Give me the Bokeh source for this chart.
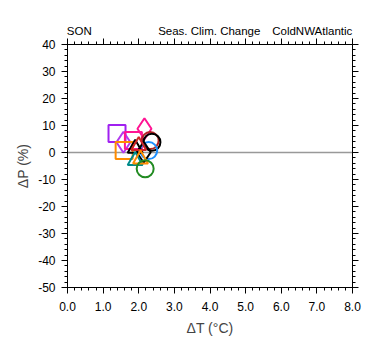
from bokeh.plotting import figure
from bokeh.models import Range1d, FixedTicker, Span, LinearAxis, NumeralTickFormatter
from bokeh.embed import file_html
from bokeh.resources import INLINE

# data
dT = [1.39, 2.16, 1.57, 1.85, 2.32, 2.37, 1.59, 2.28, 2.14, 1.90, 2.00, 1.90, 2.05, 2.18]
dP = [7.0, 8.8, 3.8, 4.4, 4.4, 3.8, 0.7, 0.7, 0.1, 1.5, 2.5, -3.0, -2.5, -6.0]
markers = ["square", "diamond", "diamond", "square", "circle", "circle", "square",
           "circle", "diamond", "triangle", "triangle", "triangle", "triangle", "circle"]
colors = ["#A020F0", "#FF1493", "#B23AEE", "#FF1493", "#B22222", "#000000", "#FF8C00",
          "#1E90FF", "#000000", "#000000", "#CD2626", "#008B8B", "#FF8C00", "#228B22"]

x_ticks = [0, 1, 2, 3, 4, 5, 6, 7, 8]
y_ticks = [-50, -40, -30, -20, -10, 0, 10, 20, 30, 40]
x_minor = [i * 0.2 for i in range(41)]
y_minor = list(range(-50, 41, 2))
titles = ["SON", "Seas. Clim. Change", "ColdNWAtlantic"]
title_pos = [0.33, 3.98, 6.87]   # centres of the three header strings, in ΔT units

FONT = "Liberation Sans"

p = figure(width=380, height=355, output_backend="svg", toolbar_location=None,
           x_range=Range1d(0, 8), y_range=Range1d(-50, 40),
           min_border_left=67, min_border_right=28, min_border_top=44, min_border_bottom=68,
           x_axis_label="ΔT (°C)", y_axis_label="ΔP (%)")
p.grid.visible = False
p.outline_line_color = "black"
p.outline_line_width = 1
p.background_fill_color = "white"
p.border_fill_color = "white"

def style(ax):
    ax.axis_line_color = "black"
    ax.major_tick_in = 0
    ax.major_tick_out = 6
    ax.minor_tick_in = 0
    ax.minor_tick_out = 3
    ax.major_label_text_font = FONT
    ax.major_label_text_font_size = "12px"
    ax.major_label_text_color = "black"
    ax.axis_label_text_font = FONT
    ax.axis_label_text_font_size = "14px"
    ax.axis_label_text_font_style = "normal"

xa = p.xaxis[0]
xa.ticker = FixedTicker(ticks=x_ticks, minor_ticks=x_minor)
xa.formatter = NumeralTickFormatter(format="0.0")
style(xa)
xa.major_label_standoff = 8
xa.axis_label_standoff = 6

ya = p.yaxis[0]
ya.ticker = FixedTicker(ticks=y_ticks, minor_ticks=y_minor)
ya.major_label_overrides = {v: str(v) for v in y_ticks}
style(ya)
ya.major_label_standoff = 6
ya.axis_label_standoff = 4

top = LinearAxis(ticker=FixedTicker(ticks=x_ticks, minor_ticks=x_minor))
style(top)
top.major_label_overrides = {v: "" for v in x_ticks}
top.major_label_standoff = 0
p.add_layout(top, "above")

# header strings carried by a bare axis above the tick axis
head = LinearAxis(ticker=FixedTicker(ticks=title_pos, minor_ticks=[]))
head.axis_line_color = None
head.major_tick_line_color = None
head.minor_tick_line_color = None
head.major_tick_out = 0
head.major_tick_in = 0
head.major_label_standoff = 2
head.major_label_overrides = dict(zip(title_pos, titles))
head.major_label_text_font = FONT
head.major_label_text_font_size = "11.5px"
head.major_label_text_color = "black"
p.add_layout(head, "above")

right = LinearAxis(ticker=FixedTicker(ticks=y_ticks, minor_ticks=y_minor))
style(right)
right.major_label_overrides = {v: "" for v in y_ticks}
p.add_layout(right, "right")

p.add_layout(Span(location=0, dimension="width", line_color="#999999", line_width=1.5, level="underlay"))

for x, y, m, c in zip(dT, dP, markers, colors):
    size = 17 if m != "triangle" else 15
    if m == "diamond":
        size = 21
    p.scatter([x], [y], marker=m, size=size, fill_color=None, line_color=c, line_width=2)

open("out.html", "w").write(file_html(p, INLINE))
